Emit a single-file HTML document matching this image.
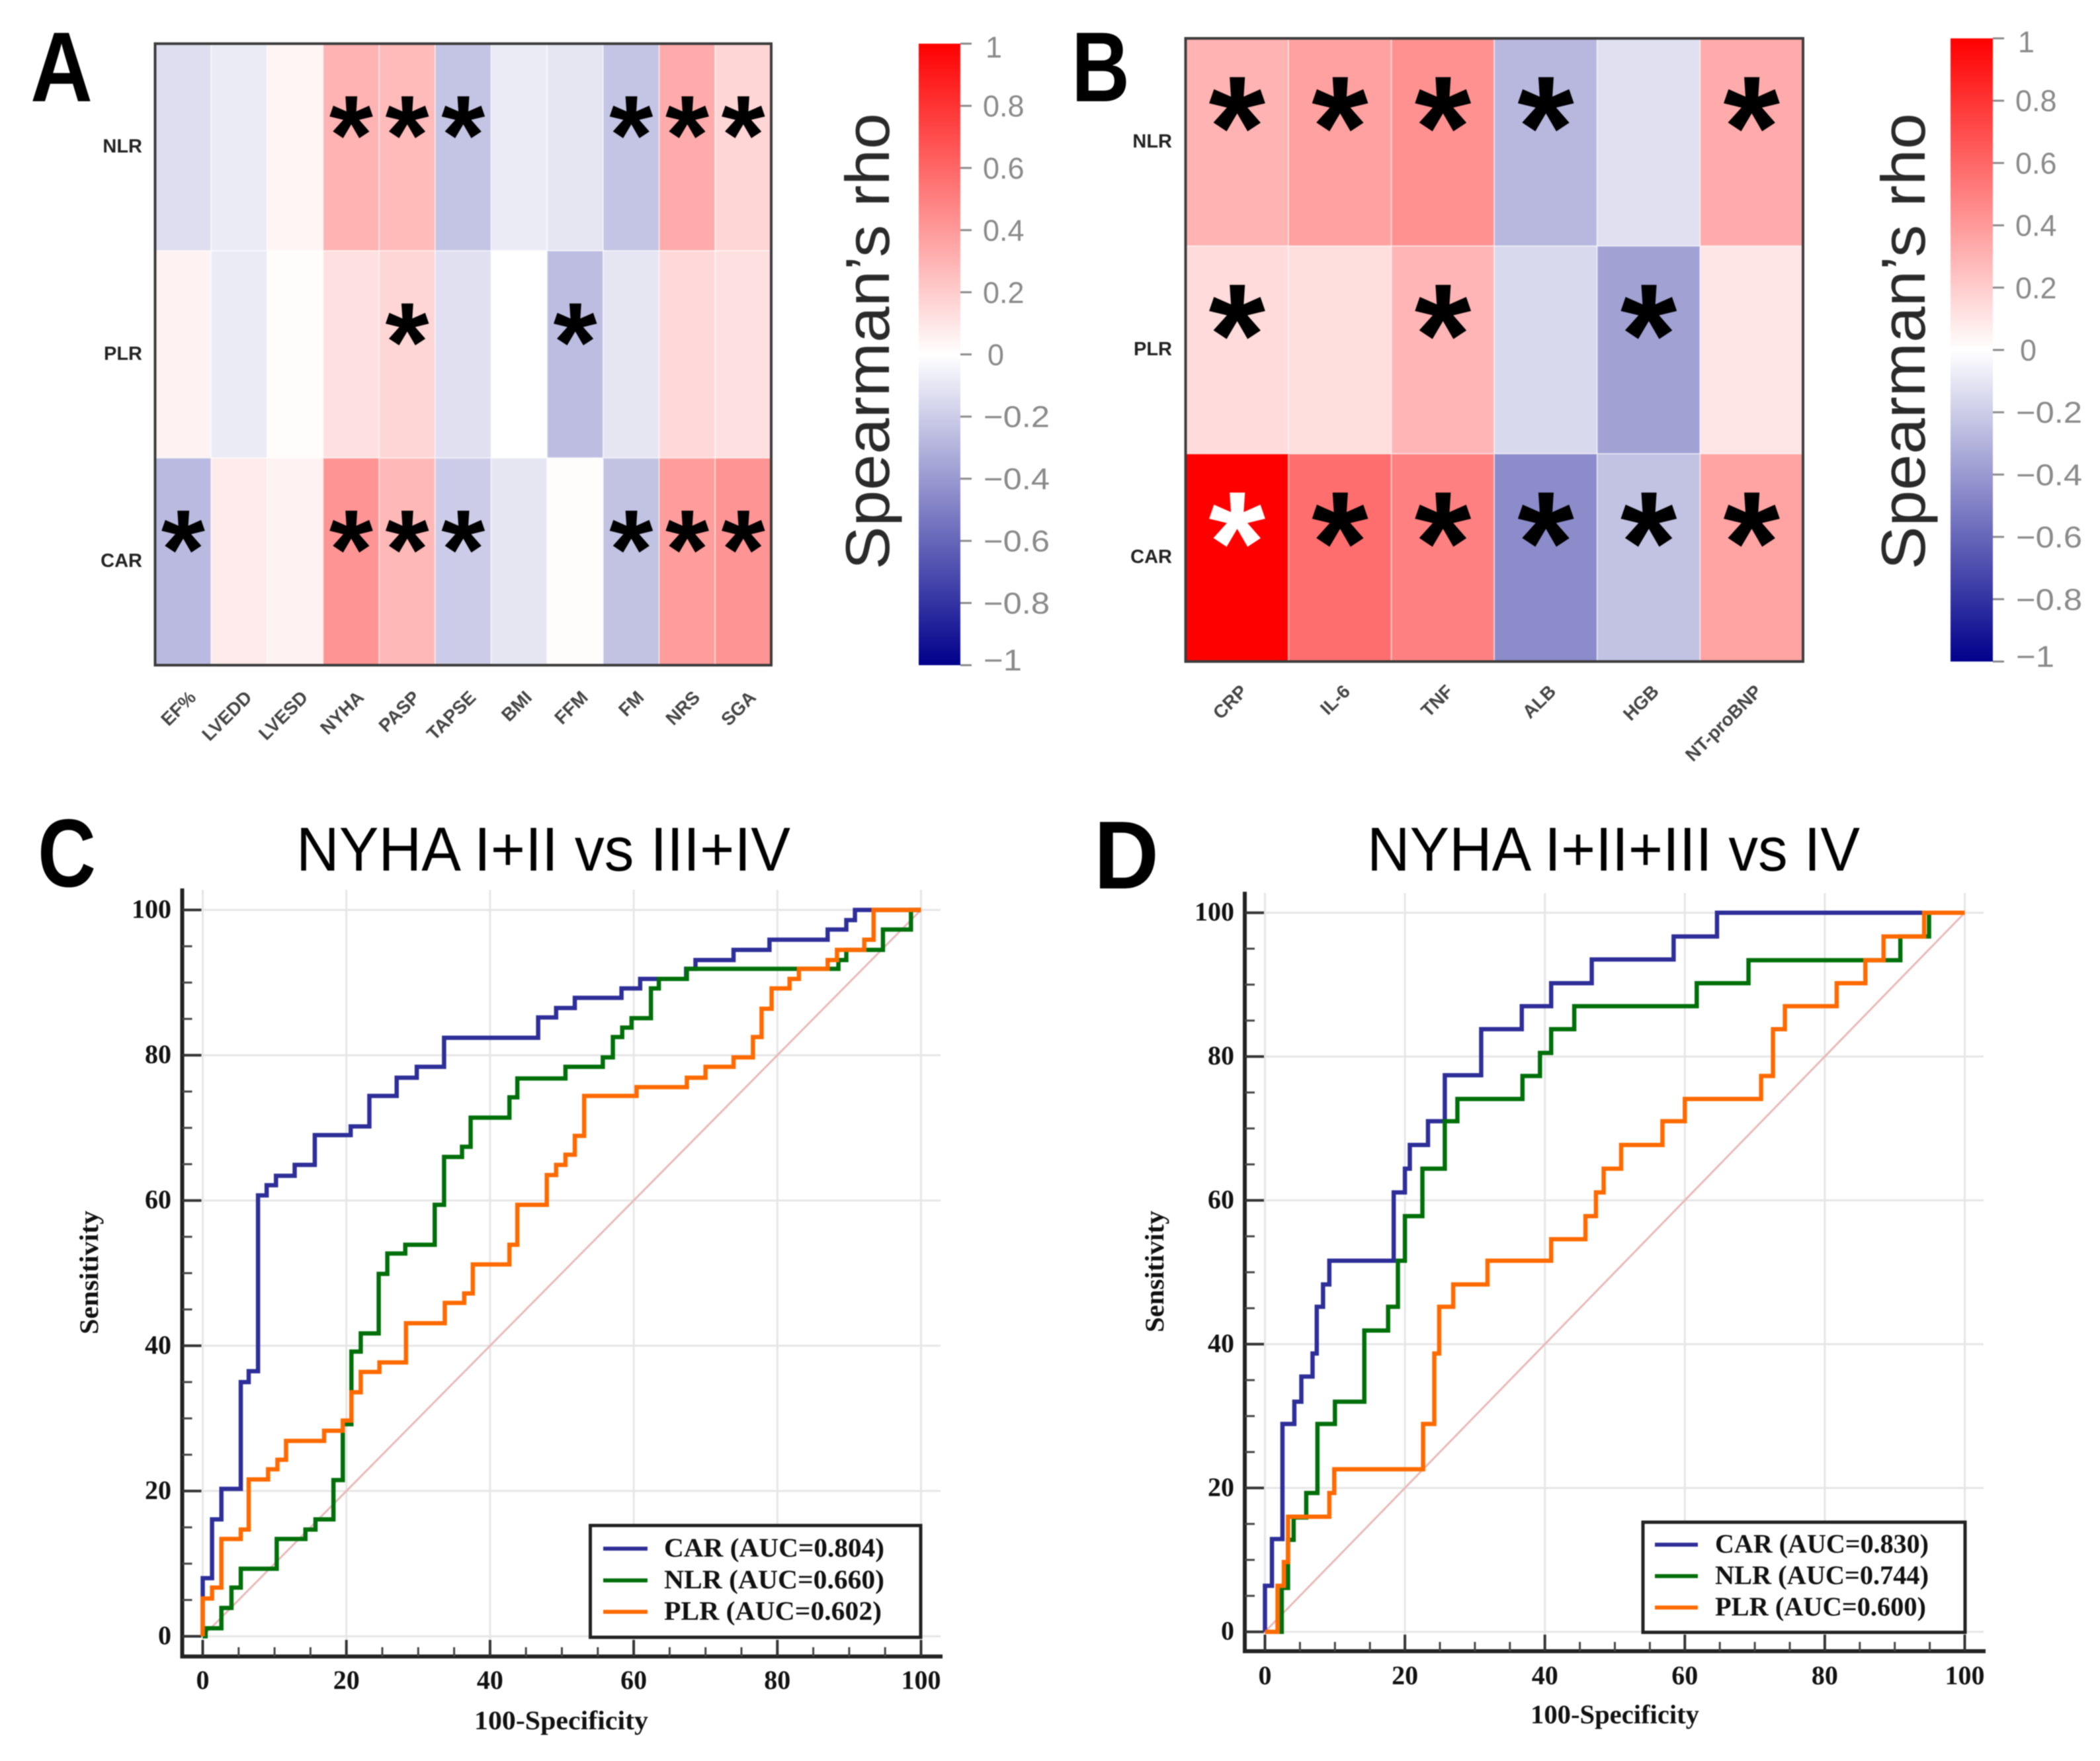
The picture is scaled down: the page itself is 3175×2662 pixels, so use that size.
<!DOCTYPE html>
<html lang="en">
<head>
<meta charset="utf-8">
<title>Spearman correlation heatmaps and ROC curves</title>
<style>
html,body{margin:0;padding:0;background:#fff;}
svg{display:block;filter:blur(.9px);}
.sans{font-family:"Liberation Sans",Arial,sans-serif;}
.serif{font-family:"Liberation Serif","Times New Roman",serif;font-weight:bold;}
</style>
</head>
<body>
<svg id="figure" xmlns="http://www.w3.org/2000/svg" width="3175" height="2662" viewBox="0 0 3175 2662">
  <rect x="0" y="0" width="3175" height="2662" fill="#fff"/>
  <defs id="defs"></defs>

  <g id="panel-a"></g>
  <g id="panel-b"></g>
  <g id="panel-c"></g>
  <g id="panel-d"></g>

  <text class="sans" x="46" y="153" font-size="150" font-weight="bold" textLength="94" lengthAdjust="spacingAndGlyphs" fill="#000">A</text>
  <text class="sans" x="1620" y="153" font-size="150" font-weight="bold" textLength="88" lengthAdjust="spacingAndGlyphs" fill="#000">B</text>
  <text class="sans" x="57" y="1340" font-size="146" font-weight="bold" textLength="88" lengthAdjust="spacingAndGlyphs" fill="#000">C</text>
  <text class="sans" x="1654" y="1343" font-size="146" font-weight="bold" textLength="98" lengthAdjust="spacingAndGlyphs" fill="#000">D</text>

  <text class="sans" x="1344" y="861" transform="rotate(-90 1344 861)" font-size="94" textLength="690" lengthAdjust="spacingAndGlyphs" fill="#2a2a2a">Spearman’s rho</text>
  <text class="sans" x="2910" y="861" transform="rotate(-90 2910 861)" font-size="94" textLength="690" lengthAdjust="spacingAndGlyphs" fill="#2a2a2a">Spearman’s rho</text>

  <text class="sans" x="448" y="1316" font-size="94" textLength="747" lengthAdjust="spacingAndGlyphs" fill="#000">NYHA I+II vs III+IV</text>
  <text class="sans" x="2067" y="1316" font-size="94" textLength="745" lengthAdjust="spacingAndGlyphs" fill="#000">NYHA I+II+III vs IV</text>

  <text class="serif" x="148" y="2017" transform="rotate(-90 148 2017)" font-size="40" textLength="187" lengthAdjust="spacingAndGlyphs" fill="#111">Sensitivity</text>
  <text class="serif" x="1759" y="2014" transform="rotate(-90 1759 2014)" font-size="40" textLength="184" lengthAdjust="spacingAndGlyphs" fill="#111">Sensitivity</text>
  <text class="serif" x="717" y="2614" font-size="40" textLength="263" lengthAdjust="spacingAndGlyphs" fill="#111">100-Specificity</text>
  <text class="serif" x="2314" y="2605" font-size="40" textLength="255" lengthAdjust="spacingAndGlyphs" fill="#111">100-Specificity</text>
</svg>

<script>
/* ---------- heatmap data ---------- */
const heatmapRows = ['NLR', 'PLR', 'CAR'];

const panelAColumns = ['EF%', 'LVEDD', 'LVESD', 'NYHA', 'PASP', 'TAPSE', 'BMI', 'FFM', 'FM', 'NRS', 'SGA'];
const panelANlr = [-0.13, -0.08, 0.04, 0.30, 0.27, -0.23, -0.08, -0.10, -0.23, 0.33, 0.16];
const panelAPlr = [0.05, -0.08, 0.01, 0.12, 0.16, -0.12, 0.00, -0.26, -0.10, 0.15, 0.12];
const panelACar = [-0.27, 0.08, 0.05, 0.42, 0.28, -0.20, -0.10, 0.01, -0.24, 0.39, 0.42];
const panelANlrStars = [0, 0, 0, 1, 1, 1, 0, 0, 1, 1, 1];
const panelAPlrStars = [0, 0, 0, 0, 1, 0, 0, 1, 0, 0, 0];
const panelACarStars = [1, 0, 0, 1, 1, 1, 0, 0, 1, 1, 1];

const panelBColumns = ['CRP', 'IL-6', 'TNF', 'ALB', 'HGB', 'NT-proBNP'];
const panelBNlr = [0.30, 0.37, 0.43, -0.28, -0.12, 0.33];
const panelBPlr = [0.14, 0.13, 0.29, -0.15, -0.37, 0.10];
const panelBCar = [1.00, 0.57, 0.50, -0.45, -0.24, 0.36];
const panelBNlrStars = [1, 1, 1, 1, 0, 1];
const panelBPlrStars = [1, 0, 1, 0, 1, 0];
const panelBCarStars = [1, 1, 1, 1, 1, 1];

const colorbarTicks = [1, 0.8, 0.6, 0.4, 0.2, 0, -0.2, -0.4, -0.6, -0.8, -1];
const colorbarLabels = ['1', '0.8', '0.6', '0.4', '0.2', '0', '−0.2', '−0.4', '−0.6', '−0.8', '−1'];

/* ---------- ROC data ---------- */
const rocMajorTicks = [0, 20, 40, 60, 80, 100];
const rocMinorTicks = [5, 10, 15, 25, 30, 35, 45, 50, 55, 65, 70, 75, 85, 90, 95];
const rocSeriesNames = ['CAR', 'NLR', 'PLR'];
const panelCAuc = ['0.804', '0.660', '0.602'];
const panelDAuc = ['0.830', '0.744', '0.600'];

const panelCCarX = [0, 1.3, 2.6, 5.3, 6.4, 7.7, 8.9, 10.2, 12.8, 15.6, 20.6, 23.2, 27, 29.8, 33.6, 46.7, 49.2, 51.8, 58.3, 60.9, 67.3, 68.6, 73.9, 78.9, 87, 89.6, 90.8];
const panelCCarY = [8, 16.1, 20.3, 35, 36.5, 60.7, 62.1, 63.4, 64.9, 69, 70.2, 74.4, 76.9, 78.4, 82.4, 85.2, 86.5, 87.9, 89.2, 90.5, 91.9, 93.1, 94.5, 95.9, 97.3, 98.6, 100];
const panelCNlrX = [0.4, 2.6, 4, 5.3, 10.3, 14.3, 15.7, 18.2, 19.5, 20.7, 22, 24.5, 25.7, 28.2, 32.3, 33.6, 36.1, 37.3, 42.7, 43.8, 50.5, 55.7, 57.1, 58.4, 59.7, 62.4, 63.5, 67.4, 88.5, 89.6, 94.7, 98.6];
const panelCNlrY = [1.1, 3.9, 6.7, 9.3, 13.4, 14.7, 16.1, 21.5, 29.2, 39.2, 41.7, 49.9, 52.7, 53.9, 59.4, 66, 67.4, 71.4, 74.2, 76.8, 78.4, 79.7, 82.5, 83.8, 85.1, 89.2, 90.5, 91.9, 93.1, 94.5, 97.3, 100];
const panelCPlrX = [0, 1.3, 2.6, 5.3, 6.4, 9.1, 10.4, 11.6, 16.9, 19.5, 20.7, 22, 24.6, 28.3, 33.7, 36.4, 37.6, 42.7, 43.8, 47.9, 49.2, 50.5, 51.8, 53.1, 60.4, 67.4, 70, 73.9, 76.6, 77.8, 79.2, 81.7, 83, 87, 88.3, 92.1, 93.4];
const panelCPlrY = [5.2, 6.7, 13.4, 14.7, 21.6, 23, 24.3, 26.9, 28.3, 29.7, 33.6, 36.4, 37.7, 43.1, 45.9, 47.2, 51.2, 53.9, 59.4, 63.5, 64.9, 66.3, 68.9, 74.4, 75.6, 76.9, 78.4, 79.7, 82.5, 86.4, 89.2, 90.5, 91.9, 93.1, 94.5, 95.9, 100];

const panelDCarX = [0, 1, 2.5, 4.2, 5.2, 6.8, 7.4, 8.3, 9.2, 18.4, 20, 20.7, 23.3, 25.7, 30.9, 36.7, 40.9, 46.7, 58.4, 64.6];
const panelDCarY = [6.4, 12.9, 28.9, 32, 35.5, 38.7, 45.2, 48.3, 51.6, 61.1, 64.4, 67.7, 71, 77.4, 83.8, 87, 90.2, 93.5, 96.7, 100];
const panelDNlrX = [2.4, 3.3, 4.1, 5.9, 7.5, 10, 14.2, 17.6, 19, 20, 22.5, 25.7, 27.5, 36.8, 39.3, 40.9, 44.2, 61.7, 69.1, 90.8, 94.9];
const panelDNlrY = [6.1, 12.8, 15.9, 19.3, 28.9, 32, 41.9, 45.2, 51.6, 57.8, 64.4, 71, 74.1, 77.3, 80.5, 83.8, 87, 90.2, 93.4, 96.7, 100];
const panelDPlrX = [1.8, 2.7, 3.3, 9.2, 9.9, 22.6, 24.2, 24.9, 26.9, 31.8, 40.9, 45.8, 47.3, 48.4, 50.9, 56.8, 60, 70.9, 72.6, 74.3, 81.7, 85.8, 88.4, 94.2];
const panelDPlrY = [6.4, 9.7, 16, 19.3, 22.6, 28.9, 38.7, 45.2, 48.3, 51.6, 54.6, 57.8, 61.1, 64.4, 67.7, 71, 74.1, 77.3, 83.8, 87, 90.2, 93.4, 96.7, 100];

/* ---------- helpers ---------- */
const NS = 'http://www.w3.org/2000/svg';
function mk(parent, tag, attrs, txt) {
  const el = document.createElementNS(NS, tag);
  for (const k in attrs) el.setAttribute(k, attrs[k]);
  if (txt !== undefined) el.textContent = txt;
  parent.appendChild(el);
  return el;
}
function rhoColor(v) {
  const a = Math.abs(v);
  if (v >= 0) {
    const c = Math.round(255 * (1 - a));
    return 'rgb(255,' + c + ',' + c + ')';
  }
  const c = Math.round(255 * (1 - a));
  const b = Math.round(255 - 116 * a);
  return 'rgb(' + c + ',' + c + ',' + b + ')';
}

/* gradient for the colour bars */
const defs = document.getElementById('defs');
const grad = mk(defs, 'linearGradient', { id: 'rho-gradient', x1: 0, y1: 1, x2: 0, y2: 0 });
[-1, 0, 1].forEach(function (v) {
  mk(grad, 'stop', { offset: (v + 1) / 2, 'stop-color': rhoColor(v) });
});

function drawHeatmap(gid, panel, g, columns, rowValues, rowStars) {
  const root = document.getElementById(gid);
  const colW = (g.right - g.left) / columns.length;
  const rowH = (g.bottom - g.top) / heatmapRows.length;
  const xPos = function (i) { return g.left + i * colW; };
  const yPos = function (r) { return g.top + r * rowH; };

  heatmapRows.forEach(function (rowName, r) {
    columns.forEach(function (colName, c) {
      const v = rowValues[r][c];
      const cell = mk(root, 'rect', {
        x: xPos(c), y: yPos(r), width: colW, height: rowH,
        fill: rhoColor(v), stroke: '#fff', 'stroke-opacity': 0.45, 'stroke-width': 2
      });
      
      
    });
  });

  heatmapRows.forEach(function (rowName, r) {
    columns.forEach(function (colName, c) {
      if (!rowStars[r][c]) return;
      const cx = xPos(c) + colW / 2;
      const cy = yPos(r) + rowH / 2 + g.starDy;
      const star = mk(root, 'text', {
        'class': 'sans', x: cx, y: cy + g.starSize * g.starBase,
        'text-anchor': 'middle', 'font-size': g.starSize, 'font-weight': 'bold',
        fill: rowValues[r][c] >= 0.9 ? '#fff' : '#000'
      }, '*');
      
      
    });
  });

  const frame = mk(root, 'rect', {
    x: g.left, y: g.top, width: g.right - g.left, height: g.bottom - g.top,
    fill: 'none', stroke: '#3c3c3c', 'stroke-width': 4
  });
  
  

  heatmapRows.forEach(function (rowName, r) {
    const lab = mk(root, 'text', {
      'class': 'sans', x: g.rowLabelX, y: yPos(r) + rowH / 2 + g.rowLabelDy,
      'text-anchor': 'end', 'font-size': 29, 'font-weight': 'bold', fill: '#222'
    }, rowName);
    
    
  });

  columns.forEach(function (colName, c) {
    const ax = xPos(c) + colW / 2 + g.colLabelDx;
    const lab = mk(root, 'text', {
      'class': 'sans', x: ax, y: g.colLabelY, 'text-anchor': 'end',
      transform: 'rotate(-45 ' + ax + ' ' + g.colLabelY + ')',
      'font-size': 28, 'font-weight': 'bold', fill: '#444'
    }, colName);
    
    
  });

  /* colour bar */
  const bar = mk(root, 'rect', {
    x: g.barLeft, y: g.top, width: g.barRight - g.barLeft, height: g.bottom - g.top,
    fill: 'url(#rho-gradient)'
  });
  
  

  const barY = function (v) { return g.top + (1 - v) / 2 * (g.bottom - g.top); };
  colorbarTicks.forEach(function (v, i) {
    const t = mk(root, 'line', {
      x1: g.barRight, x2: g.barRight + 17, y1: barY(v), y2: barY(v),
      stroke: '#8a8a8a', 'stroke-width': 3
    });
    
    
    let nudge = 0;
    if (v === 1) nudge = 5;
    if (v === -1) nudge = -8;
    const lab = mk(root, 'text', {
      'class': 'sans', x: g.barRight + (v === 0 ? 41 : v === 1 ? 38 : v < 0 ? 35 : 34), y: barY(v) + 16 + nudge,
      'font-size': 45, fill: '#8a8a8a'
    }, colorbarLabels[i]);
    if (v < 0) {
      lab.setAttribute('textLength', v === -1 ? 58 : 100);
      lab.setAttribute('lengthAdjust', 'spacingAndGlyphs');
    }
    
    
  });
}

function drawRoc(gid, panel, g, series, aucs) {
  const root = document.getElementById(gid);
  const xs = function (v) { return g.x0 + v * g.xk; };
  const ys = function (v) { return g.y0 - v * g.yk; };

  /* grid */
  rocMajorTicks.forEach(function (v) {
    const gx = mk(root, 'line', { x1: xs(v), x2: xs(v), y1: g.gridTop, y2: g.axisY - 22, stroke: '#e6e6e6', 'stroke-width': 3 });
    
    
    const gy = mk(root, 'line', { x1: g.axisX + 8, x2: g.gridRight, y1: ys(v), y2: ys(v), stroke: '#e6e6e6', 'stroke-width': 3 });
    
    
  });

  /* reference diagonal */
  const diag = mk(root, 'line', { x1: xs(0), y1: ys(0), x2: xs(100), y2: ys(100), stroke: '#e9b9b9', 'stroke-width': 3 });
  
  

  /* axes */
  const yAxis = mk(root, 'line', { x1: g.axisX, x2: g.axisX, y1: g.axisTop, y2: g.axisY + 3, stroke: '#222', 'stroke-width': 6 });
  
  
  const xAxis = mk(root, 'line', { x1: g.axisLeft, x2: g.axisRight, y1: g.axisY, y2: g.axisY, stroke: '#222', 'stroke-width': 6 });
  
  

  /* ticks */
  rocMinorTicks.forEach(function (v) {
    const ty = mk(root, 'line', { x1: g.axisX, x2: g.axisX + 15, y1: ys(v), y2: ys(v), stroke: '#444', 'stroke-width': 3 });
    
    
    const tx = mk(root, 'line', { x1: xs(v), x2: xs(v), y1: g.axisY, y2: g.axisY - 14, stroke: '#444', 'stroke-width': 3 });
    
    
  });
  rocMajorTicks.forEach(function (v) {
    const ty = mk(root, 'line', { x1: g.axisX, x2: g.axisX + 29, y1: ys(v), y2: ys(v), stroke: '#333', 'stroke-width': 4 });
    
    
    const tx = mk(root, 'line', { x1: xs(v), x2: xs(v), y1: g.axisY, y2: g.axisY - 25, stroke: '#333', 'stroke-width': 4 });
    
    
    const ly = mk(root, 'text', { 'class': 'serif', x: g.yLabelX, y: ys(v) + 12, 'text-anchor': 'end', 'font-size': 40, fill: '#111' }, String(v));
    
    
    const lx = mk(root, 'text', { 'class': 'serif', x: xs(v), y: g.xLabelY, 'text-anchor': 'middle', 'font-size': 40, fill: '#111' }, String(v));
    
    
  });

  /* curves */
  series.forEach(function (s) {
    let d = 'M' + xs(0) + ' ' + ys(0);
    let prev = 0;
    s.x.forEach(function (xv, i) {
      d += 'L' + xs(xv) + ' ' + ys(prev) + 'L' + xs(xv) + ' ' + ys(s.y[i]);
      prev = s.y[i];
    });
    d += 'L' + xs(100) + ' ' + ys(100);
    const p = mk(root, 'path', { d: d, fill: 'none', stroke: s.color, 'stroke-width': 6.5, 'stroke-linejoin': 'miter' });
    
    
  });

  /* legend */
  const lg = mk(root, 'g', {});
  
  
  const box = mk(lg, 'rect', { x: g.legL, y: g.legT, width: g.legR - g.legL, height: g.legB - g.legT, fill: '#fff', stroke: '#222', 'stroke-width': 5 });
  
  
  series.forEach(function (s, i) {
    const yy = g.legRows[i];
    const swatch = mk(lg, 'line', { x1: g.legLine0, x2: g.legLine1, y1: yy, y2: yy, stroke: s.color, 'stroke-width': 6 });
    
    
    const tx = mk(lg, 'text', {
      'class': 'serif', x: g.legText, y: yy + 12, 'font-size': 40,
      textLength: g.legTextLen[i], lengthAdjust: 'spacingAndGlyphs', fill: '#111'
    }, s.name + ' (AUC=' + aucs[i] + ')');
    
    
  });
}

/* ---------- draw ---------- */
drawHeatmap('panel-a', 'a', {
  left: 234.5, right: 1166, top: 66, bottom: 1005.5,
  barLeft: 1389, barRight: 1452,
  rowLabelX: 215, rowLabelDy: 8, colLabelDx: 21, colLabelY: 1056,
  starSize: 170, starDy: -45, starBase: 0.5
}, panelAColumns, [panelANlr, panelAPlr, panelACar], [panelANlrStars, panelAPlrStars, panelACarStars]);

drawHeatmap('panel-b', 'b', {
  left: 1792.5, right: 2726, top: 58, bottom: 1000,
  barLeft: 2949, barRight: 3013,
  rowLabelX: 1772, rowLabelDy: 8, colLabelDx: 17, colLabelY: 1047,
  starSize: 220, starDy: -57, starBase: 0.5
}, panelBColumns, [panelBNlr, panelBPlr, panelBCar], [panelBNlrStars, panelBPlrStars, panelBCarStars]);

const rocBlue = '#2e2e98';
const rocGreen = '#006f0a';
const rocOrange = '#ff6a00';

drawRoc('panel-c', 'c', {
  x0: 306.5, xk: 10.86, y0: 2473.5, yk: 10.98,
  axisX: 275.5, axisY: 2504, axisTop: 1343, axisLeft: 273, axisRight: 1425,
  gridTop: 1345, gridRight: 1422, yLabelX: 259, xLabelY: 2553,
  legL: 892.5, legR: 1392, legT: 2306, legB: 2475,
  legRows: [2341, 2389, 2436.5], legLine0: 912, legLine1: 979, legText: 1004,
  legTextLen: [333, 333, 329]
}, [
  { name: rocSeriesNames[0], x: panelCCarX, y: panelCCarY, color: rocBlue },
  { name: rocSeriesNames[1], x: panelCNlrX, y: panelCNlrY, color: rocGreen },
  { name: rocSeriesNames[2], x: panelCPlrX, y: panelCPlrY, color: rocOrange }
], panelCAuc);

drawRoc('panel-d', 'd', {
  x0: 1912.5, xk: 10.58, y0: 2466.7, yk: 10.87,
  axisX: 1882, axisY: 2496, axisTop: 1348, axisLeft: 1880, axisRight: 3002,
  gridTop: 1350, gridRight: 2999, yLabelX: 1866, xLabelY: 2546,
  legL: 2484, legR: 2971, legT: 2301, legB: 2467.5,
  legRows: [2335, 2382.5, 2430], legLine0: 2502, legLine1: 2567, legText: 2593,
  legTextLen: [323, 323, 319]
}, [
  { name: rocSeriesNames[0], x: panelDCarX, y: panelDCarY, color: rocBlue },
  { name: rocSeriesNames[1], x: panelDNlrX, y: panelDNlrY, color: rocGreen },
  { name: rocSeriesNames[2], x: panelDPlrX, y: panelDPlrY, color: rocOrange }
], panelDAuc);
</script>
</body>
</html>
